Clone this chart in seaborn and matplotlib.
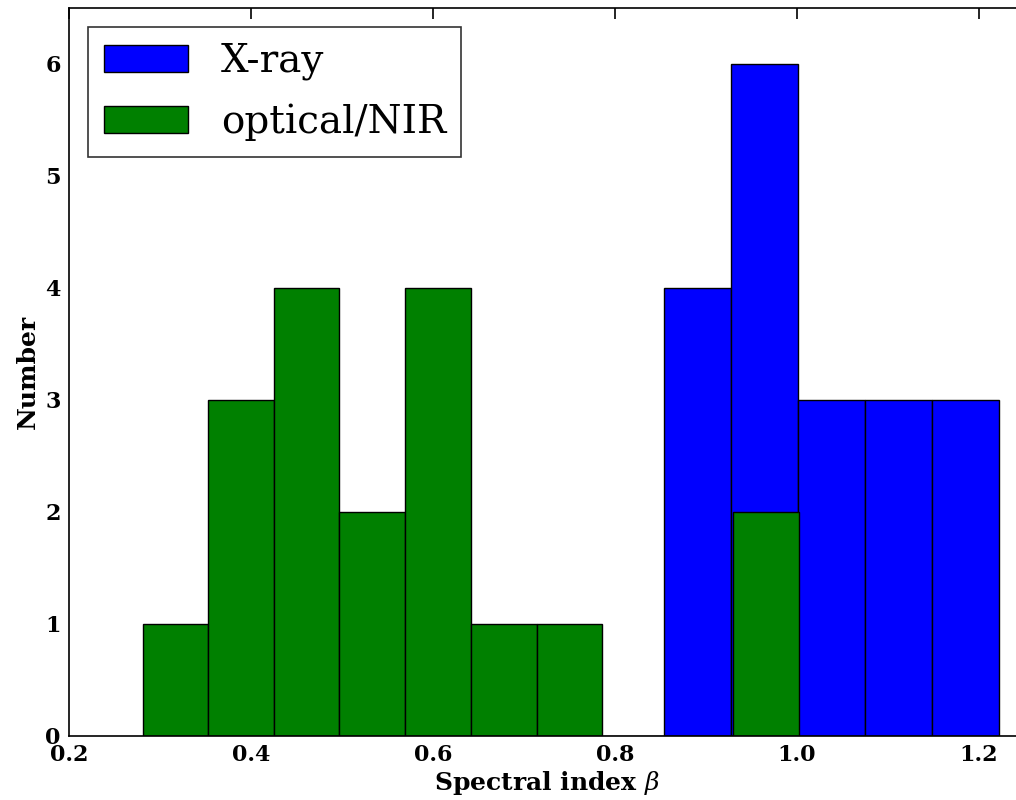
import numpy as np
import pandas as pd
import matplotlib
matplotlib.use("Agg")
import matplotlib.pyplot as plt
import seaborn as sns

# Histogram bin edges and counts for the two samples
xray_edges = [0.854, 0.927, 1.001, 1.075, 1.148, 1.222]
xray_counts = [4, 6, 3, 3, 3]

opt_edges = [0.281, 0.353, 0.425, 0.497, 0.569, 0.642, 0.714, 0.786, 0.858, 0.930, 1.002]
opt_counts = [1, 3, 4, 2, 4, 1, 1, 0, 0, 2]

xticks = [0.2, 0.4, 0.6, 0.8, 1.0, 1.2]
yticks = [0, 1, 2, 3, 4, 5, 6]

sns.set_style("white")
plt.rcParams["font.family"] = ["DejaVu Serif"]
plt.rcParams["mathtext.fontset"] = "dejavuserif"
plt.rcParams["text.color"] = "black"
plt.rcParams["axes.labelcolor"] = "black"
plt.rcParams["xtick.color"] = "black"
plt.rcParams["ytick.color"] = "black"

def centers(edges):
    e = np.asarray(edges)
    return (e[:-1] + e[1:]) / 2

xray = pd.DataFrame({"beta": centers(xray_edges), "n": xray_counts})
opt = pd.DataFrame({"beta": centers(opt_edges), "n": opt_counts})

fig = plt.figure(figsize=(10.16, 8.0), dpi=100)
ax = fig.add_axes([0.0679, 0.08, 0.9405, 0.91])

sns.histplot(data=xray, x="beta", weights="n", bins=xray_edges, ax=ax,
             color="#0000ff", alpha=1.0, edgecolor="black", linewidth=1.0,
             label="X-ray")
sns.histplot(data=opt, x="beta", weights="n", bins=opt_edges, ax=ax,
             color="#008000", alpha=1.0, edgecolor="black", linewidth=1.0,
             label="optical/NIR")

ax.set_xlim(0.2, 1.25)
ax.set_ylim(0, 6.5)
ax.set_xticks(xticks)
ax.set_xticklabels([f"{t:.1f}" for t in xticks])
ax.set_yticks(yticks)
ax.set_yticklabels([str(t) for t in yticks])

ax.tick_params(axis="both", direction="in", length=8, width=1.2,
               top=True, right=False, labelsize=16, pad=6)
for lab in ax.get_xticklabels() + ax.get_yticklabels():
    lab.set_fontweight("bold")

for side in ["left", "bottom", "top", "right"]:
    ax.spines[side].set_visible(True)
    ax.spines[side].set_color("black")
    ax.spines[side].set_linewidth(1.2)

ax.set_xlabel(r"Spectral index $\beta$", fontsize=18, fontweight="bold", labelpad=2)
ax.set_ylabel("Number", fontsize=18, fontweight="bold", labelpad=4)

leg = ax.legend(loc="upper left", fontsize=28, frameon=True, fancybox=False,
                handlelength=2.15, handleheight=0.7, borderpad=0.4,
                labelspacing=0.6, handletextpad=0.85, borderaxespad=0.5)
leg.get_frame().set_edgecolor("black")
leg.get_frame().set_linewidth(1.2)

fig.savefig("out.png", dpi=100)
